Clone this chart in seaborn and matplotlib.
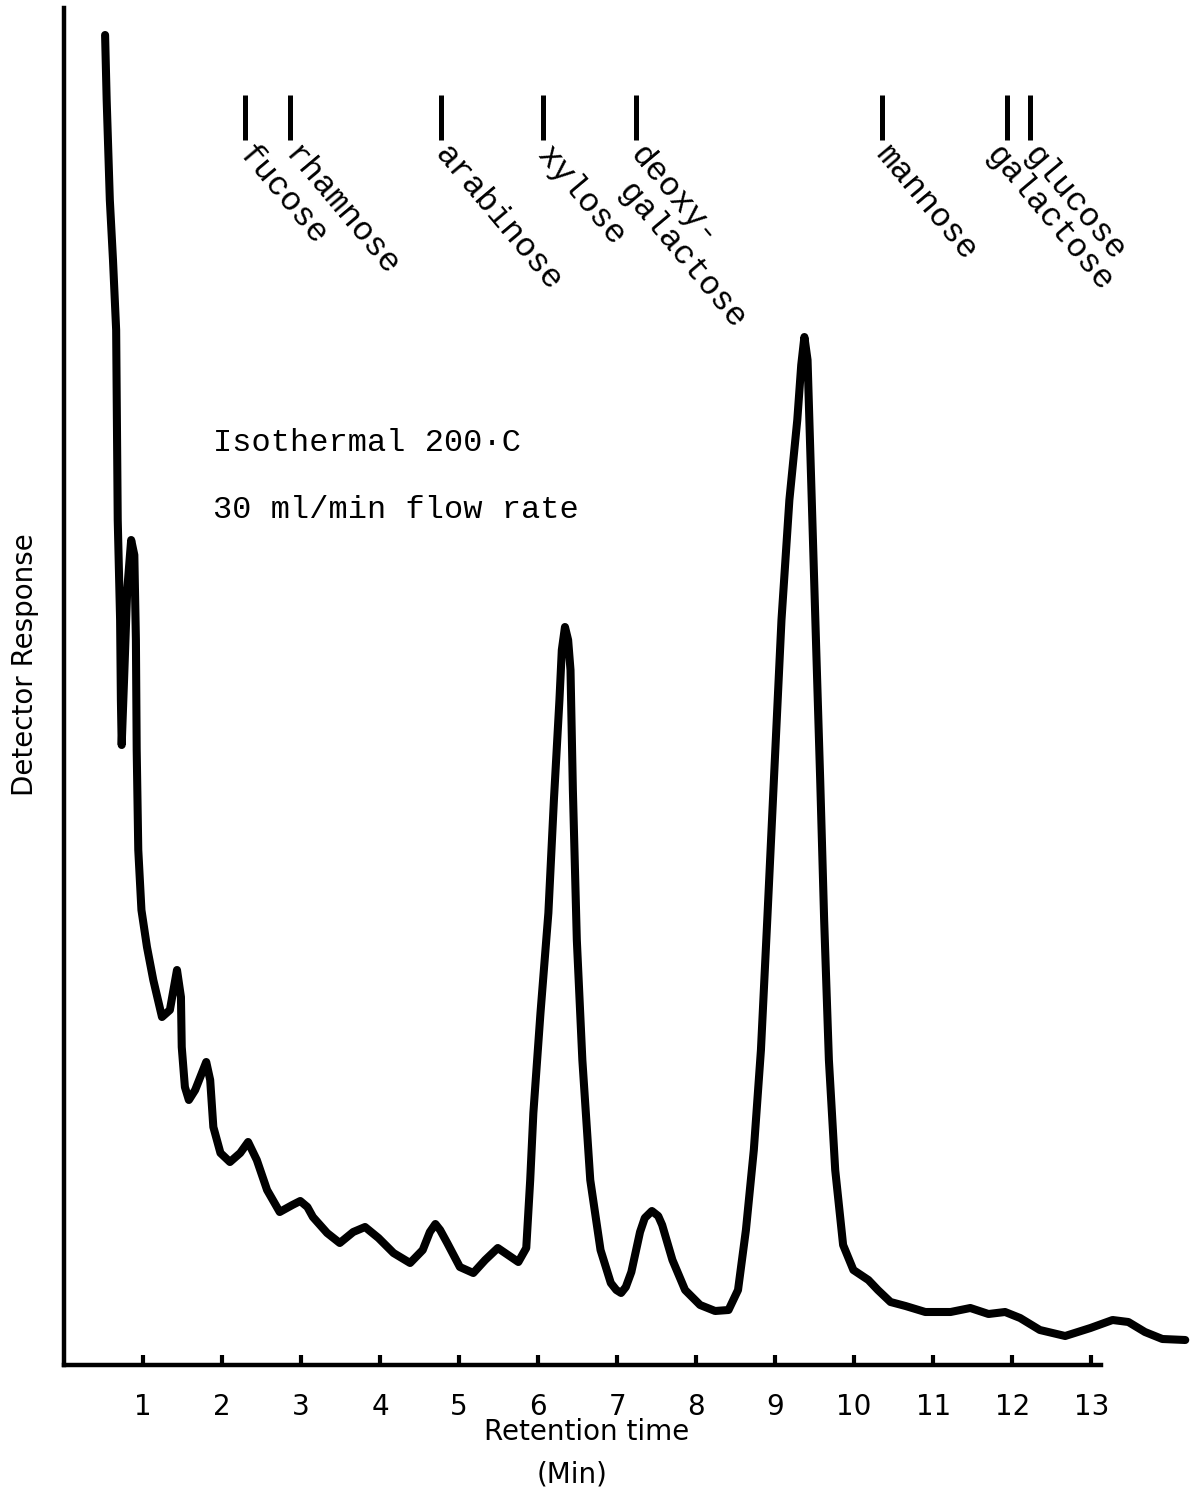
import matplotlib
matplotlib.use("Agg")
import matplotlib.pyplot as plt
import seaborn as sns

sns.set_style("white")
plt.rcParams["font.family"] = ["DejaVu Sans"]
plt.rcParams["text.color"] = "black"
plt.rcParams["xtick.color"] = "black"

# chromatogram trace (retention time in min, detector response arb. units)
time_min = [0.52, 0.54, 0.58, 0.62, 0.66, 0.67, 0.68, 0.71, 0.72, 0.73,
            0.76, 0.80, 0.85, 0.89, 0.91, 0.92, 0.94, 0.98, 1.05, 1.13,
            1.24, 1.34, 1.43, 1.48, 1.49, 1.53, 1.58, 1.66, 1.80, 1.85,
            1.89, 1.98, 2.10, 2.23, 2.33, 2.44, 2.57, 2.73, 2.89, 2.99,
            3.08, 3.15, 3.33, 3.49, 3.66, 3.81, 3.98, 4.17, 4.38, 4.54,
            4.63, 4.70, 4.76, 4.85, 5.01, 5.18, 5.33, 5.49, 5.62, 5.75,
            5.85, 5.90, 5.94, 6.03, 6.13, 6.20, 6.27, 6.30, 6.34, 6.38,
            6.41, 6.44, 6.49, 6.56, 6.66, 6.79, 6.92, 6.99, 7.05, 7.11,
            7.18, 7.29, 7.35, 7.44, 7.52, 7.57, 7.70, 7.86, 8.05, 8.24,
            8.41, 8.53, 8.63, 8.73, 8.82, 8.90, 8.99, 9.08, 9.18, 9.28,
            9.33, 9.37, 9.41, 9.47, 9.52, 9.57, 9.62, 9.68, 9.76, 9.86,
            9.99, 10.18, 10.30, 10.46, 10.65, 10.90, 11.22, 11.47, 11.70, 11.91,
            12.10, 12.35, 12.67, 12.99, 13.27, 13.47, 13.68, 13.90, 14.19]
response = [133.0, 126.5, 116.5, 110.5, 103.5, 94.5, 84.5, 74.5, 66.5, 62.0,
            68.5, 77.5, 82.5, 81.0, 72.5, 61.5, 51.5, 45.5, 41.8, 38.5,
            34.8, 35.5, 39.5, 36.8, 31.8, 27.8, 26.5, 27.5, 30.3, 28.5,
            23.8, 21.2, 20.3, 21.2, 22.3, 20.5, 17.5, 15.3, 16.0, 16.4,
            15.8, 14.8, 13.2, 12.2, 13.3, 13.8, 12.7, 11.2, 10.2, 11.5,
            13.3, 14.1, 13.5, 12.2, 9.8, 9.2, 10.5, 11.7, 11.0, 10.3,
            11.7, 18.5, 25.2, 35.2, 45.2, 56.5, 66.5, 71.5, 73.8, 72.5,
            69.5, 57.5, 42.5, 30.5, 18.5, 11.5, 8.2, 7.5, 7.2, 7.8,
            9.3, 13.3, 14.7, 15.4, 14.9, 14.0, 10.5, 7.5, 6.0, 5.4,
            5.5, 7.5, 13.5, 21.5, 31.5, 44.5, 59.5, 74.5, 86.5, 94.5,
            100.0, 102.8, 100.5, 84.5, 71.5, 58.5, 44.5, 30.5, 19.5, 12.0,
            9.5, 8.5, 7.5, 6.3, 5.9, 5.3, 5.3, 5.7, 5.1, 5.3,
            4.7, 3.5, 2.9, 3.7, 4.5, 4.3, 3.3, 2.6, 2.5]

# reference sugar retention times
sugars = ["fucose", "rhamnose", "arabinose", "xylose", "deoxy-\n galactose",
          "mannose", "galactose", "glucose"]
sugar_times = [2.29, 2.86, 4.77, 6.06, 7.24, 10.35, 11.94, 12.23]

x_ticks = list(range(1, 14))

fig = plt.figure(figsize=(11.97, 14.96), dpi=100)
ax = fig.add_axes([64 / 1197, 131 / 1496, 1126 / 1197, 1357 / 1496])

sns.lineplot(x=time_min, y=response, sort=False, estimator=None, color="black",
             linewidth=5.8, solid_capstyle="round", solid_joinstyle="round", ax=ax)

ax.set_xlim(0, 14.25)
ax.set_ylim(0, 135.7)

# sugar markers and labels
ax.vlines(sugar_times, 122.5, 127.0, color="black", linewidth=3.6)
for name, t in zip(sugars, sugar_times):
    dx = -3 if name == "galactose" else 8
    ax.annotate(name, xy=(t, 122.5), xytext=(dx, 0), textcoords="offset points",
                rotation=-50, rotation_mode="anchor", ha="left", va="top",
                fontsize=24, family="Liberation Mono", linespacing=1.0,
                color="black")

ax.text(1.886, 92.2, "Isothermal 200·C", fontsize=23, family="Liberation Mono",
        va="center", ha="left", color="black")
ax.text(1.886, 85.5, "30 ml/min flow rate", fontsize=23, family="Liberation Mono",
        va="center", ha="left", color="black")

# axes styling
for side in ["top", "right"]:
    ax.spines[side].set_visible(False)
for side in ["left", "bottom"]:
    ax.spines[side].set_linewidth(3.2)
    ax.spines[side].set_color("black")
ax.spines["bottom"].set_bounds(0, 13.12)

ax.set_xticks(x_ticks)
ax.set_xticklabels([str(v) for v in x_ticks])
ax.set_yticks([])
ax.tick_params(axis="x", direction="in", length=7, width=3, pad=20,
               labelsize=20, colors="black", bottom=True)

fig.text(587 / 1197, 1 - 1432 / 1496, "Retention time", fontsize=20,
         ha="center", va="center", color="black")
fig.text(572 / 1197, 1 - 1475 / 1496, "(Min)", fontsize=20,
         ha="center", va="center", color="black")
fig.text(25 / 1197, 1 - 665 / 1496, "Detector Response", fontsize=20,
         rotation=90, ha="center", va="center", color="black")

fig.savefig("out.png", dpi=100, facecolor="white")
